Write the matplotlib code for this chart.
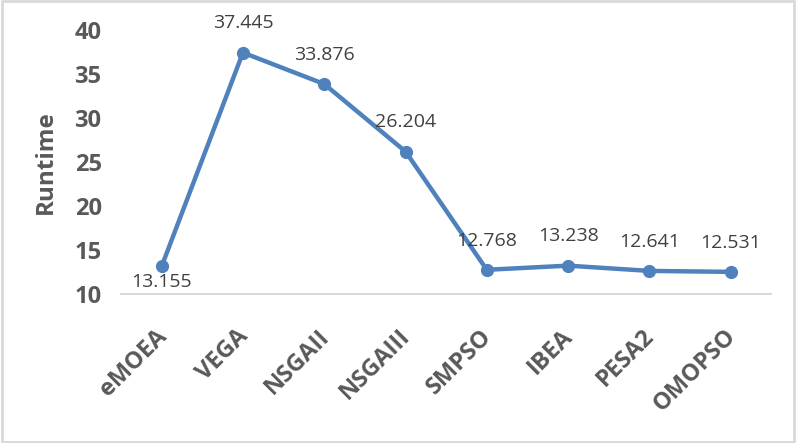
import matplotlib.pyplot as plt
import matplotlib.transforms as mtransforms
from matplotlib.patches import Rectangle

# runtime of each algorithm
algorithms = ['eMOEA', 'VEGA', 'NSGAII', 'NSGAIII', 'SMPSO', 'IBEA', 'PESA2', 'OMOPSO']
runtime = [13.155, 37.445, 33.876, 26.204, 12.768, 13.238, 12.641, 12.531]
y_ticks = [10, 15, 20, 25, 30, 35, 40]

plt.rcParams['font.family'] = ['Open Sans', 'DejaVu Sans']

fig = plt.figure(figsize=(7.96, 4.43), dpi=100)
ax = fig.add_axes([0.152, 0.336, 0.817, 0.596])

x = list(range(len(algorithms)))
ax.plot(x, runtime, color='#4f81bd', lw=3.2, marker='o', ms=8.5, solid_joinstyle='round')

# data labels, first one sits under its point
for i, v in enumerate(runtime):
    if i == 0:
        ax.annotate(f'{v:.3f}', (i, v), xytext=(0, -11), textcoords='offset points',
                    ha='center', va='center', fontsize=14, color='#404040')
    else:
        ax.annotate(f'{v:.3f}', (i, v), xytext=(0, 21), textcoords='offset points',
                    ha='center', va='center', fontsize=14, color='#404040')

ax.set_xlim(-0.5, len(algorithms) - 0.5)
ax.set_ylim(10, 40)
ax.set_yticks(y_ticks)
ax.set_xticks(x)
ax.set_xticklabels(algorithms, rotation=45, ha='right', rotation_mode='anchor',
                   fontsize=17, fontweight='bold', color='#595959')
ax.set_yticklabels([str(t) for t in y_ticks], fontsize=17, fontweight='bold', color='#595959')
ax.tick_params(axis='both', length=0)
ax.tick_params(axis='x', pad=22)
ax.tick_params(axis='y', pad=14)
ax.set_ylabel('Runtime', fontsize=17.5, fontweight='bold', color='#595959', labelpad=12)

# nudge the rotated labels left a little
shift = mtransforms.ScaledTranslation(-5 / 72, 0, fig.dpi_scale_trans)
for lab in ax.get_xticklabels():
    lab.set_transform(lab.get_transform() + shift)

for s in ['top', 'right', 'left']:
    ax.spines[s].set_visible(False)
ax.spines['bottom'].set_color('#d9d9d9')
ax.spines['bottom'].set_linewidth(1.5)
for line in ax.lines:
    line.set_clip_on(False)

fig.patches.append(Rectangle((0.002, 0.003), 0.996, 0.994, transform=fig.transFigure,
                             fill=False, edgecolor='#d9d9d9', lw=2))

fig.savefig('out.png', dpi=100)
